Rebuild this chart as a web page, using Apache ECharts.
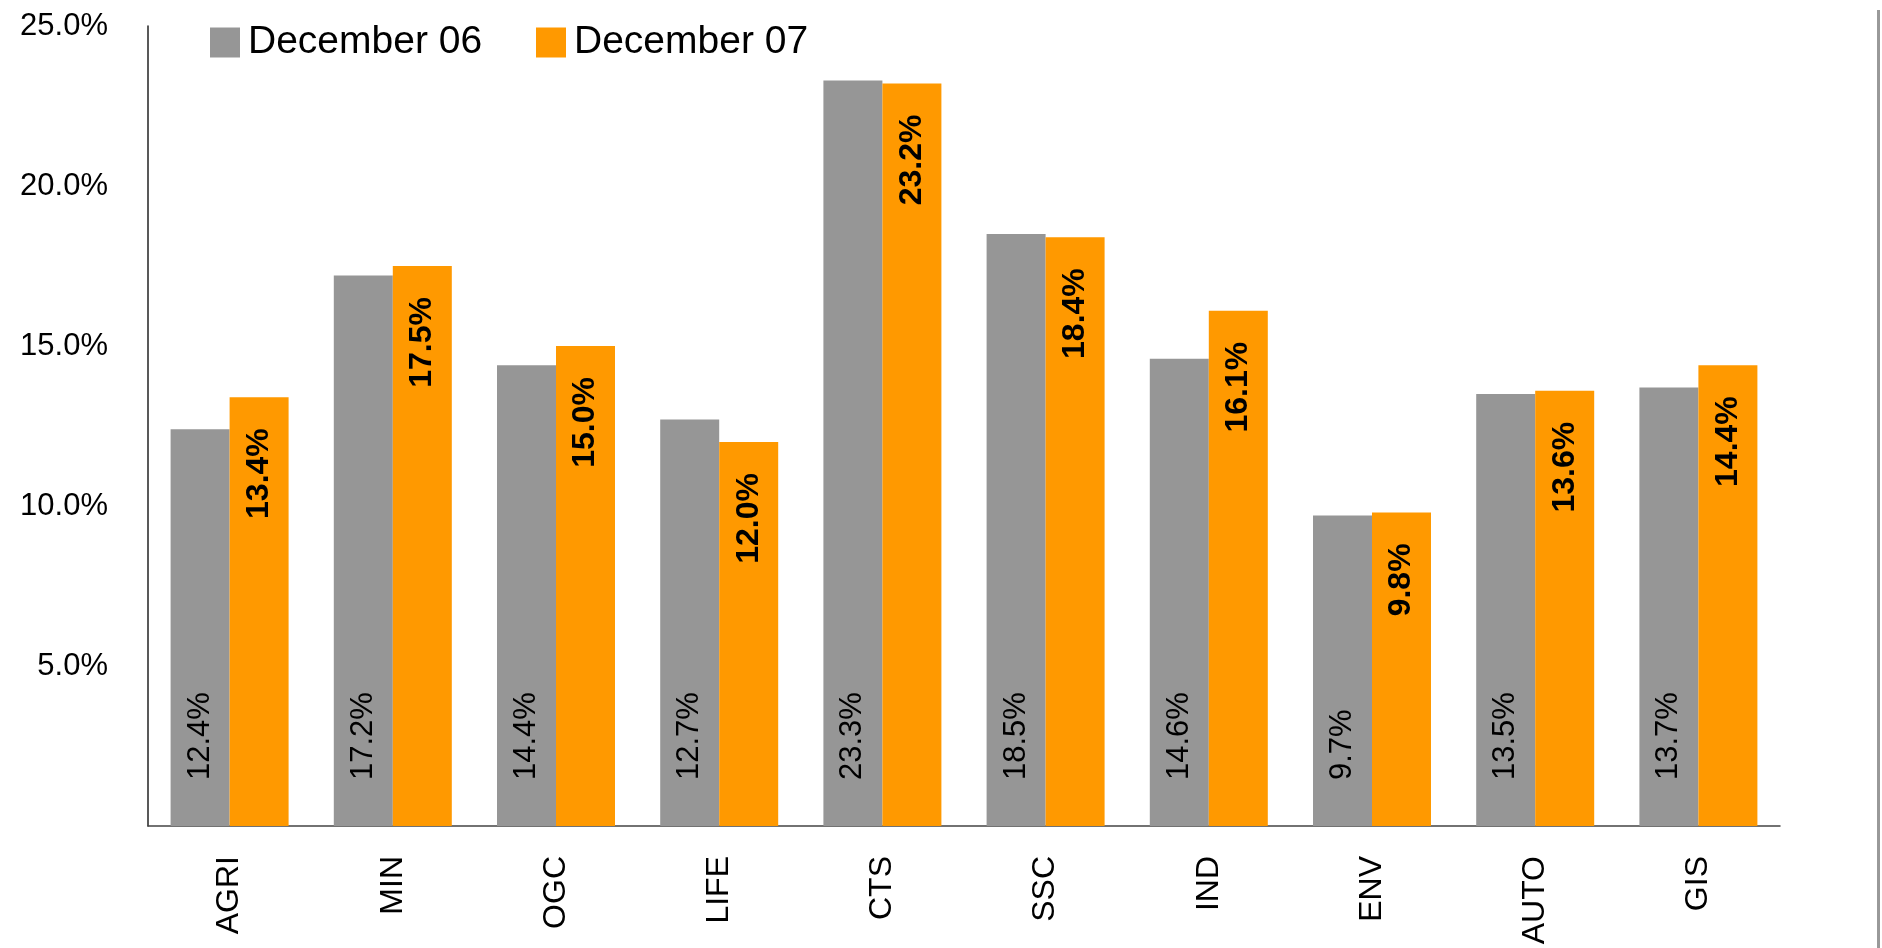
<!DOCTYPE html>
<html>
<head>
<meta charset="utf-8">
<title>December 06 vs December 07</title>
<script src="https://cdn.jsdelivr.net/npm/echarts@6/dist/echarts.min.js"></script>
<style>
  html, body { margin: 0; padding: 0; background: #ffffff; }
  #chart { width: 1882px; height: 948px; }
</style>
</head>
<body>
<div id="chart"></div>
<script>
// Sector categories and the two yearly series (percent)
const categories = ['AGRI', 'MIN', 'OGC', 'LIFE', 'CTS', 'SSC', 'IND', 'ENV', 'AUTO', 'GIS'];
const dec06 = [12.4, 17.2, 14.4, 12.7, 23.3, 18.5, 14.6, 9.7, 13.5, 13.7];
const dec07 = [13.4, 17.5, 15.0, 12.0, 23.2, 18.4, 16.1, 9.8, 13.6, 14.4];
const seriesNames = ['December 06', 'December 07'];
const yTicks = { min: 0, max: 25, interval: 5 };

const FONT = '"Liberation Sans", Arial, sans-serif';
const GREY = '#969696';
const ORANGE = '#FF9900';

const chart = echarts.init(document.getElementById('chart'), null, { renderer: 'canvas' });

const legendText = { fontFamily: FONT, fontSize: 39, color: '#000', padding: [0, 0, 0, 3] };

chart.setOption({
  backgroundColor: '#ffffff',
  animation: false,
  grid: { left: 148, right: 102, top: 26, bottom: 122, containLabel: false },
  legend: [
    {
      data: [seriesNames[0]], left: 210, top: 23, padding: 0,
      itemWidth: 30, itemHeight: 30, icon: 'rect', textStyle: legendText
    },
    {
      data: [seriesNames[1]], left: 536, top: 23, padding: 0,
      itemWidth: 30, itemHeight: 30, icon: 'rect', textStyle: legendText
    }
  ],
  xAxis: {
    type: 'category',
    data: categories,
    axisLine: { show: true, lineStyle: { color: '#444', width: 1.5 } },
    axisTick: { show: false },
    axisLabel: {
      rotate: 90, margin: 30, color: '#000',
      fontFamily: FONT, fontSize: 32
    }
  },
  yAxis: {
    type: 'value',
    min: yTicks.min, max: yTicks.max, interval: yTicks.interval,
    splitLine: { show: false },
    axisTick: { show: false },
    axisLine: { show: true, lineStyle: { color: '#222', width: 1.5 } },
    axisLabel: {
      margin: 40, color: '#000', fontFamily: FONT, fontSize: 31,
      formatter: v => (v === 0 ? '' : v.toFixed(1) + '%')
    }
  },
  series: [
    {
      name: seriesNames[0],
      type: 'bar',
      data: dec06,
      barWidth: 59,
      barGap: '0%',
      itemStyle: { color: GREY },
      label: {
        show: true,
        position: 'insideBottom',
        distance: 46,
        rotate: 90,
        align: 'left',
        verticalAlign: 'middle',
        color: '#000',
        fontFamily: FONT,
        fontSize: 31,
        formatter: p => p.value.toFixed(1) + '%'
      }
    },
    {
      name: seriesNames[1],
      type: 'bar',
      data: dec07,
      barWidth: 59,
      barGap: '0%',
      itemStyle: { color: ORANGE },
      label: {
        show: true,
        position: 'insideTop',
        distance: 31,
        rotate: 90,
        align: 'right',
        verticalAlign: 'middle',
        color: '#000',
        fontFamily: FONT,
        fontWeight: 'bold',
        fontSize: 32,
        formatter: p => p.value.toFixed(1) + '%'
      }
    }
  ],
  graphic: [
    {
      type: 'rect',
      shape: { x: 1877, y: 10, width: 3, height: 938 },
      style: { fill: '#999999' },
      silent: true
    }
  ]
});
</script>
</body>
</html>
